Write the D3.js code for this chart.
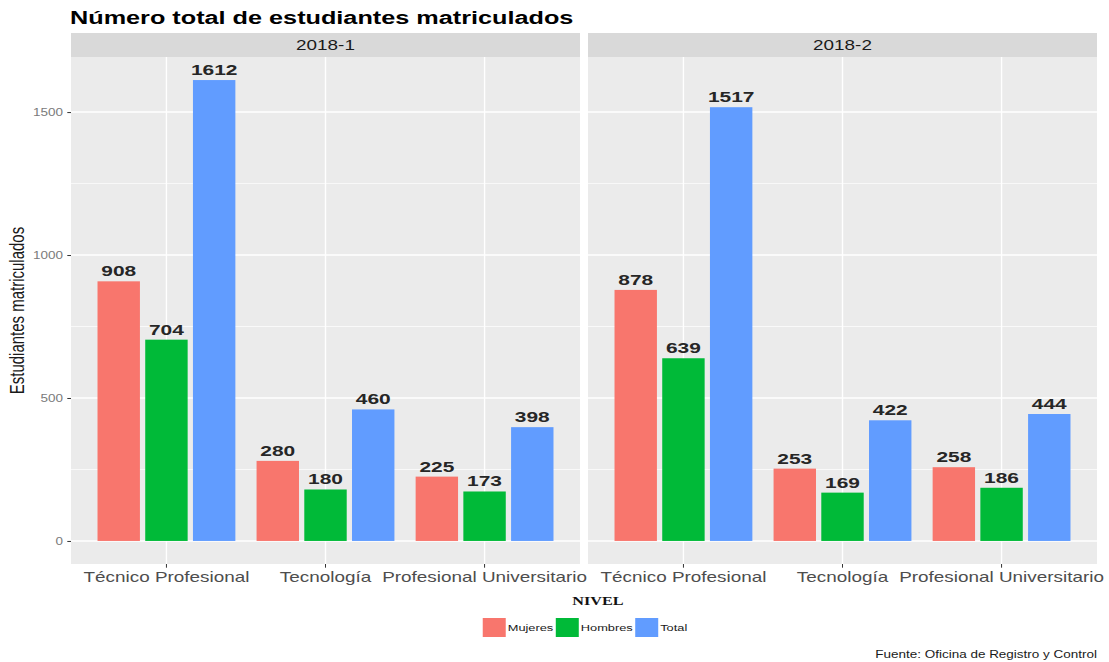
<!DOCTYPE html>
<html>
<head>
<meta charset="utf-8">
<script src="https://cdn.jsdelivr.net/npm/d3@7"></script>
<style>
  html, body { margin: 0; padding: 0; background: #ffffff; }
  svg { display: block; font-family: "Liberation Sans", Arial, sans-serif; }
</style>
</head>
<body>
<svg id="chart" width="1109" height="662"></svg>
<script>
// ---- Data ----
const periods = ["2018-1", "2018-2"];
const niveles = ["Técnico Profesional", "Tecnología", "Profesional Universitario"];
const seriesNames = ["Mujeres", "Hombres", "Total"];
const mujeres_2018_1 = [908, 280, 225];
const hombres_2018_1 = [704, 180, 173];
const total_2018_1   = [1612, 460, 398];
const mujeres_2018_2 = [878, 253, 258];
const hombres_2018_2 = [639, 169, 186];
const total_2018_2   = [1517, 422, 444];
const yTicks = [0, 500, 1000, 1500];
const yMinorTicks = [250, 750, 1250];
const colors = ["#F8766D", "#00BA38", "#619CFF"];

const panelData = [
  { period: periods[0], series: [mujeres_2018_1, hombres_2018_1, total_2018_1] },
  { period: periods[1], series: [mujeres_2018_2, hombres_2018_2, total_2018_2] }
];

// ---- Layout ----
const SX = 1.35; // horizontal stretch of the reference text
const svg = d3.select("#chart");
const panelTop = 57, panelBottom = 564, stripTop = 33;
const panels = [{ x0: 71, x1: 580 }, { x0: 588, x1: 1097 }];

const maxVal = d3.max(panelData, p => d3.max(p.series, s => d3.max(s)));
const pad = maxVal * 0.05;
const y = d3.scaleLinear().domain([-pad, maxVal + pad]).range([panelBottom, panelTop]);

function stext(parent, x, yy, str, o) {
  const g = parent.append("g")
    .attr("transform", `translate(${x},${yy}) scale(${SX},1)` + (o.rotate ? ` rotate(${o.rotate})` : ""));
  return g.append("text")
    .attr("text-anchor", o.anchor || "middle")
    .attr("font-size", o.size)
    .attr("font-weight", o.weight || "normal")
    .attr("font-family", o.family || "Liberation Sans, Arial, sans-serif")
    .attr("fill", o.fill || "#1a1a1a")
    .text(str);
}

// Title
stext(svg, 70, 24, "Número total de estudiantes matriculados", { size: 18.7, weight: "bold", anchor: "start", fill: "#000" });

panelData.forEach((pd, pi) => {
  const P = panels[pi];
  const xBand = d3.scaleLinear().domain([0.4, niveles.length + 0.6]).range([P.x0, P.x1]);
  const g = svg.append("g");

  // strip
  g.append("rect").attr("x", P.x0).attr("y", stripTop).attr("width", P.x1 - P.x0)
    .attr("height", panelTop - stripTop).attr("fill", "#D9D9D9");
  stext(g, (P.x0 + P.x1) / 2, 50, pd.period, { size: 14, fill: "#1a1a1a" });

  // panel background
  g.append("rect").attr("x", P.x0).attr("y", panelTop).attr("width", P.x1 - P.x0)
    .attr("height", panelBottom - panelTop).attr("fill", "#EBEBEB");

  // minor gridlines
  g.selectAll(".ymin").data(yMinorTicks).enter().append("line")
    .attr("x1", P.x0).attr("x2", P.x1).attr("y1", d => y(d)).attr("y2", d => y(d))
    .attr("stroke", "#fff").attr("stroke-width", 0.7);
  // major gridlines
  g.selectAll(".ymaj").data(yTicks).enter().append("line")
    .attr("x1", P.x0).attr("x2", P.x1).attr("y1", d => y(d)).attr("y2", d => y(d))
    .attr("stroke", "#fff").attr("stroke-width", 1.4);
  g.selectAll(".xmaj").data(niveles).enter().append("line")
    .attr("x1", (d, i) => xBand(i + 1)).attr("x2", (d, i) => xBand(i + 1))
    .attr("y1", panelTop).attr("y2", panelBottom)
    .attr("stroke", "#fff").attr("stroke-width", 1.4);

  // bars
  const unit = xBand(1) - xBand(0);
  const dodge = 0.9 / 3, barW = 0.8 / 3;
  pd.series.forEach((vals, si) => {
    vals.forEach((v, ci) => {
      const cx = xBand(ci + 1 + (si - 1) * dodge);
      g.append("rect")
        .attr("x", cx - barW * unit / 2).attr("width", barW * unit)
        .attr("y", y(v)).attr("height", y(0) - y(v))
        .attr("fill", colors[si]);
      stext(g, cx, y(v) - 5, String(v), { size: 15.5, weight: "bold", fill: "#262626" });
    });
  });

  // x axis ticks and labels
  niveles.forEach((n, ci) => {
    const cx = xBand(ci + 1);
    g.append("line").attr("x1", cx).attr("x2", cx).attr("y1", panelBottom).attr("y2", panelBottom + 3.7)
      .attr("stroke", "#333").attr("stroke-width", 1);
    stext(g, cx, 582, n, { size: 14, fill: "#4d4d4d" });
  });

  // y axis (first panel only)
  if (pi === 0) {
    const ax = g.append("g").attr("transform", `translate(${P.x0},0)`)
      .call(d3.axisLeft(y).tickValues(yTicks).tickSize(3.7).tickPadding(0).tickFormat(d3.format("d")));
    ax.select(".domain").remove();
    ax.selectAll(".tick line").attr("stroke", "#333");
    ax.selectAll(".tick text")
      .attr("x", 0).attr("dy", "0.32em")
      .attr("font-size", 10).attr("fill", "#7a7a7a")
      .attr("font-family", "Liberation Sans, Arial, sans-serif")
      .attr("text-anchor", "end")
      .attr("transform", `translate(-8,0) scale(${SX},1)`);
  }
});

// y-axis title
stext(svg, 24, (panelTop + panelBottom) / 2, "Estudiantes matriculados", { size: 15, rotate: -90, fill: "#1a1a1a" });

// x-axis title
stext(svg, 598, 605, "NIVEL", { size: 12, weight: "bold", family: "Liberation Serif, Times New Roman, serif", fill: "#111" });

// legend
const leg = svg.append("g");
const keyW = 23, keyH = 19, keyY = 618;
let cursor = 0;
const items = [];
seriesNames.forEach((s, i) => {
  const kg = leg.append("g");
  kg.append("rect").attr("x", cursor).attr("y", keyY).attr("width", keyW).attr("height", keyH).attr("fill", colors[i]);
  const t = stext(kg, cursor + keyW + 2, keyY + keyH / 2 + 3.3, s, { size: 9.5, anchor: "start", fill: "#1a1a1a" });
  const w = t.node().getComputedTextLength() * SX;
  cursor += keyW + 2 + w + 2.5;
});
const legWidth = cursor - 2.5;
leg.attr("transform", `translate(${585 - legWidth / 2},0)`);

// caption
stext(svg, 1097, 658, "Fuente: Oficina de Registro y Control", { size: 10, anchor: "end", fill: "#1a1a1a" });
</script>
</body>
</html>
